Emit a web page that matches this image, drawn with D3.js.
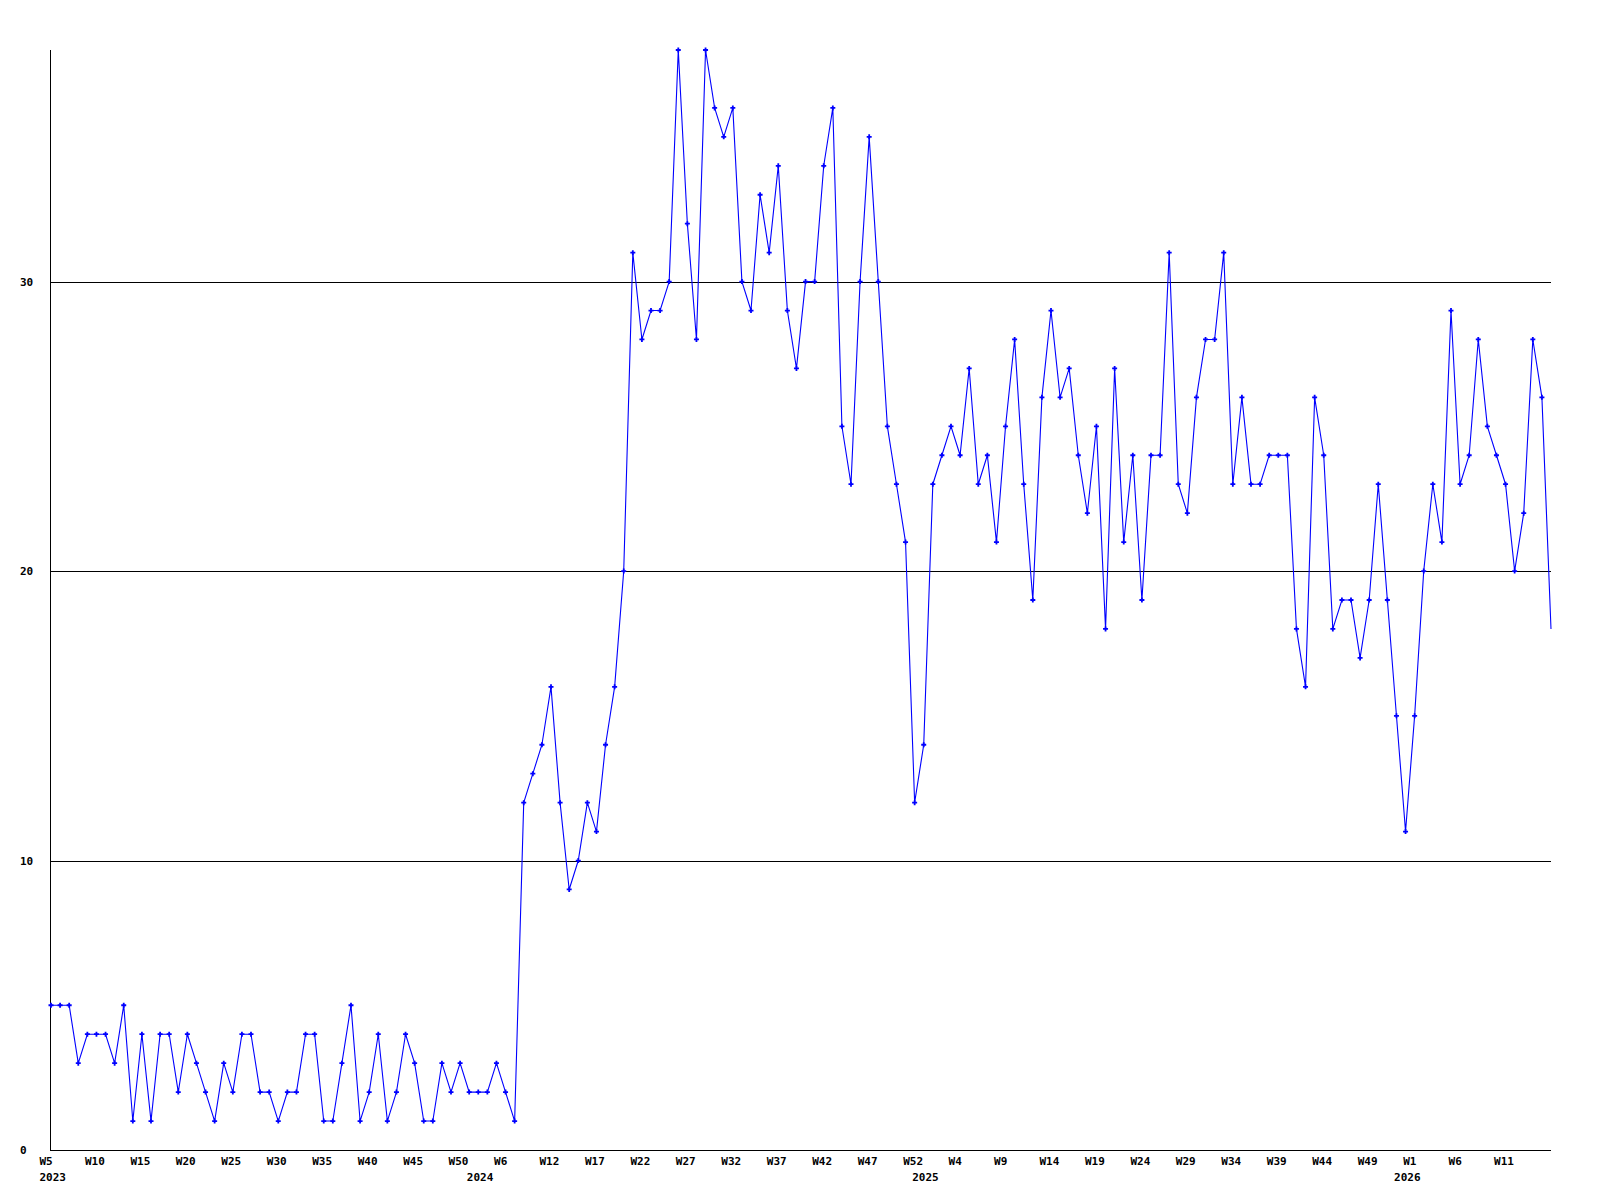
<!DOCTYPE html>
<html lang="en">
<head>
<meta charset="utf-8">
<title>Weekly count</title>
<script src="https://cdn.jsdelivr.net/npm/d3@7"></script>
<style>
  body { margin: 0; background: #fff; }
  svg text { font-family: "DejaVu Sans Mono", monospace; font-size: 11px; font-weight: bold; fill: #000; }
  .grid line { stroke: #000; stroke-width: 1; shape-rendering: crispEdges; }
  .axis path { display: none; }
  .line { fill: none; stroke: #0000ff; stroke-width: 1.1; }
</style>
</head>
<body>
<svg id="chart" width="1600" height="1200"></svg>
<script>
// weekly values, 2023 W5 onwards
var values = [
  5,5,5,3,4,4,4,3,5,1, 4,1,4,4,2,4,3,2,1,3, 2,4,4,2,2,1,2,2,4,4,
  1,1,3,5,1,2,4,1,2,4, 3,1,1,3,2,3,2,2,2,3, 2,1,
  12,13,14,16,12,9,10,12,11,14,16,20,
  31,28,29,29,30,38,32,28,38,36,35,36,30,29,33,31,34,29,27,30,30,34,36,25,23,30,35,30,25,23,
  21,12,14,23,24,25,24,27,23,24,21,25,28,23,19,26,29,26,27,24,22,25,18,27,
  21,24,19,24,24,31,23,22,26,28,28,31,23,26,23,23,24,24,24,18,
  16,26,24,18,19,19,17,19,23,19,15,11,15,20,23,21,29,23,24,28,25,24,23,20,22,28,26,18
];

// x tick labels (one every 5 points) and year labels
var weekTicks = [0,5,10,15,20,25,30,35,40,45,50,55,60,65,70,75,80,85,90,95,100,105,110,115,120,125,130,135,140,145,150,155,160];
var weekLabels = ["W5","W10","W15","W20","W25","W30","W35","W40","W45","W50","W6","W12","W17","W22","W27","W32","W37","W42","W47","W52","W4","W9","W14","W19","W24","W29","W34","W39","W44","W49","W1","W6","W11"];
var yearTicks = [0, 47, 96, 149];
var yearLabels = ["2023","2024","2025","2026"];
var yTicks = [0, 10, 20, 30];

var svg = d3.select("#chart"),
    plotLeft = 50, plotRight = 1551, plotTop = 50, plotBottom = 1150;

var x = d3.scaleLinear().domain([0, values.length - 1]).range([plotLeft + 1, plotRight]);
var y = d3.scaleLinear().domain([0, 38]).range([plotBottom, plotTop]);

// horizontal grid lines
svg.append("g")
    .attr("class", "grid")
    .selectAll("line")
    .data(yTicks.filter(function(d) { return d > 0; }))
    .enter().append("line")
    .attr("x1", plotLeft).attr("x2", plotRight)
    .attr("y1", function(d) { return Math.round(y(d)) + 0.5; })
    .attr("y2", function(d) { return Math.round(y(d)) + 0.5; });

// y axis labels
var yAxis = svg.append("g")
    .attr("class", "axis")
    .attr("transform", "translate(" + plotLeft + ",0)")
    .call(d3.axisLeft(y).tickValues(yTicks).tickSize(0).tickFormat(d3.format("d")));
yAxis.selectAll("text").attr("text-anchor", "start").attr("x", 20 - plotLeft);

// x axis: week labels and year labels
var xAxis = svg.append("g")
    .attr("class", "axis")
    .attr("transform", "translate(0," + plotBottom + ")")
    .call(d3.axisBottom(x).tickValues(weekTicks).tickSize(0)
        .tickFormat(function(d, i) { return weekLabels[i]; }));
xAxis.selectAll("text").attr("text-anchor", "start").attr("dx", -12).attr("y", 7);

var yearAxis = svg.append("g")
    .attr("class", "axis")
    .attr("transform", "translate(0," + plotBottom + ")")
    .call(d3.axisBottom(x).tickValues(yearTicks).tickSize(0)
        .tickFormat(function(d, i) { return yearLabels[i]; }));
yearAxis.selectAll("text").attr("text-anchor", "start").attr("dx", -12).attr("y", 23);

// axis lines
svg.append("g").attr("class", "grid").call(function(g) {
  g.append("line").attr("x1", plotLeft + 0.5).attr("x2", plotLeft + 0.5).attr("y1", plotTop).attr("y2", plotBottom);
  g.append("line").attr("x1", plotLeft).attr("x2", plotRight).attr("y1", plotBottom + 0.5).attr("y2", plotBottom + 0.5);
});

// the series
var line = d3.line()
    .x(function(d, i) { return x(i); })
    .y(function(d) { return y(d); });

svg.append("path")
    .attr("class", "line")
    .attr("d", line(values));

svg.append("g")
    .selectAll("path")
    .data(values.slice(0, values.length - 1))
    .enter().append("path")
    .attr("transform", function(d, i) { return "translate(" + x(i) + "," + y(d) + ")"; })
    .attr("d", "M-2.5,0H2.5M0,-2.5V2.5")
    .attr("stroke", "#0000ff")
    .attr("stroke-width", 1.8);
</script>
</body>
</html>
